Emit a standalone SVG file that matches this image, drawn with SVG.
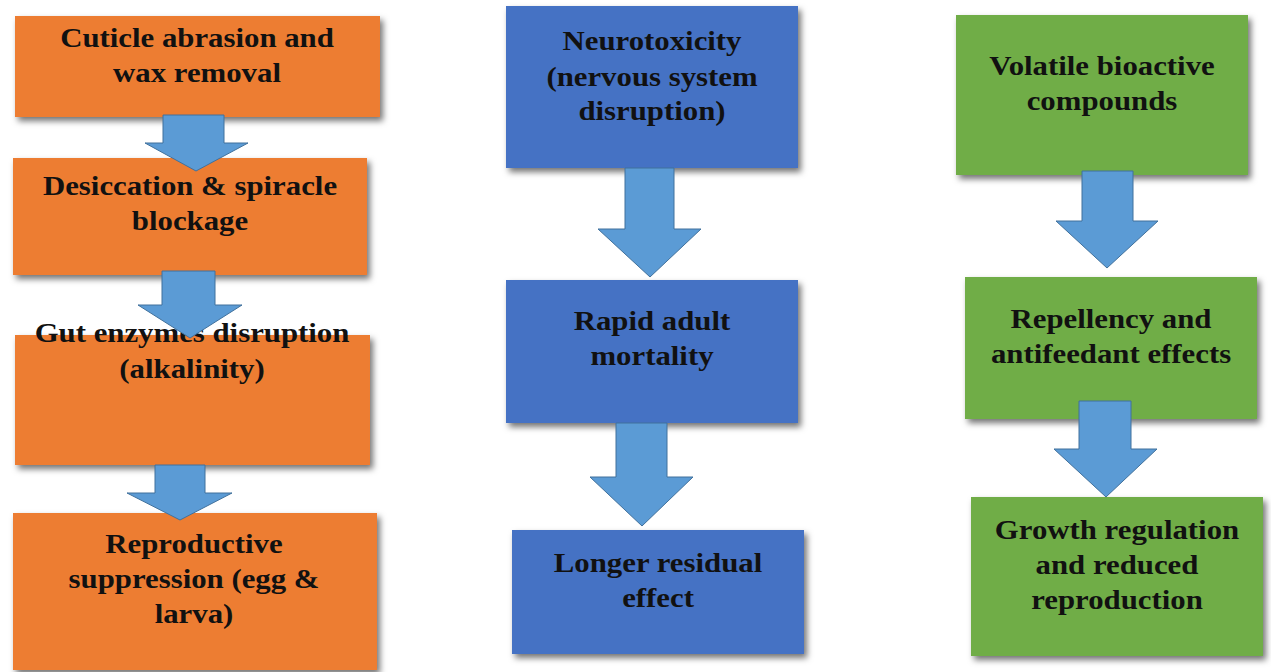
<svg xmlns="http://www.w3.org/2000/svg" width="1271" height="672" viewBox="0 0 1271 672">
<defs>
<filter id="sh" x="-10%" y="-10%" width="125%" height="130%">
<feDropShadow dx="3" dy="4" stdDeviation="3" flood-color="#000" flood-opacity="0.55"/>
</filter>
<style>
.o{fill:#ED7D31;filter:url(#sh)}
.b{fill:#4472C4;filter:url(#sh)}
.g{fill:#70AD47;filter:url(#sh)}
.t{font-family:"Liberation Serif","Times New Roman",serif;font-weight:bold;font-size:28px;fill:#111;text-anchor:middle}
.ar{fill:#5B9BD5;stroke:#41719C;stroke-width:1}
</style>
</defs>
<rect width="1271" height="672" fill="#fff"/>
<g id="nodes">
<g id="n-cuticle">
<rect class="o" x="15" y="16" width="365" height="101"/>
<g transform="translate(197,0) scale(1.1,1)"><text class="t" x="0" y="47">Cuticle abrasion and</text><text class="t" x="0" y="82">wax removal</text></g>
</g>
<g id="n-desiccation">
<rect class="o" x="13" y="158" width="354" height="117"/>
<g transform="translate(190,0) scale(1.1,1)"><text class="t" x="0" y="195">Desiccation &amp; spiracle</text><text class="t" x="0" y="230">blockage</text></g>
</g>
<g id="n-gut">
<rect class="o" x="15" y="335" width="355" height="130"/>
<g transform="translate(192,0) scale(1.1,1)"><text class="t" x="0" y="342">Gut enzymes disruption</text><text class="t" x="0" y="378">(alkalinity)</text></g>
</g>
<g id="n-repro">
<rect class="o" x="13" y="513" width="364" height="157"/>
<g transform="translate(194,0) scale(1.1,1)"><text class="t" x="0" y="553">Reproductive</text><text class="t" x="0" y="588">suppression (egg &amp;</text><text class="t" x="0" y="623">larva)</text></g>
</g>
<g id="n-neuro">
<rect class="b" x="506" y="6" width="292" height="162"/>
<g transform="translate(652,0) scale(1.1,1)"><text class="t" x="0" y="50">Neurotoxicity</text><text class="t" x="0" y="86">(nervous system</text><text class="t" x="0" y="120">disruption)</text></g>
</g>
<g id="n-rapid">
<rect class="b" x="506" y="280" width="292" height="143"/>
<g transform="translate(652,0) scale(1.1,1)"><text class="t" x="0" y="330">Rapid adult</text><text class="t" x="0" y="365">mortality</text></g>
</g>
<g id="n-longer">
<rect class="b" x="512" y="530" width="292" height="124"/>
<g transform="translate(658,0) scale(1.1,1)"><text class="t" x="0" y="572">Longer residual</text><text class="t" x="0" y="607">effect</text></g>
</g>
<g id="n-volatile">
<rect class="g" x="956" y="15" width="292" height="160"/>
<g transform="translate(1102,0) scale(1.1,1)"><text class="t" x="0" y="75">Volatile bioactive</text><text class="t" x="0" y="110">compounds</text></g>
</g>
<g id="n-repellency">
<rect class="g" x="965" y="277" width="292" height="142"/>
<g transform="translate(1111,0) scale(1.1,1)"><text class="t" x="0" y="328">Repellency and</text><text class="t" x="0" y="363">antifeedant effects</text></g>
</g>
<g id="n-growth">
<rect class="g" x="971" y="497" width="292" height="159"/>
<g transform="translate(1117,0) scale(1.1,1)"><text class="t" x="0" y="539">Growth regulation</text><text class="t" x="0" y="574">and reduced</text><text class="t" x="0" y="609">reproduction</text></g>
</g>
</g>
<g id="connectors">
<polygon class="ar" points="163,115 224,115 224,143 248,143 196,171 145,143 163,143"/>
<polygon class="ar" points="162,271 215,271 215,305 242,305 190,338 138,305 162,305"/>
<polygon class="ar" points="155,465 205,465 205,493 232,493 180,520 127,493 155,493"/>
<polygon class="ar" points="625,168 674,168 674,229 701,229 650,277 598,229 625,229"/>
<polygon class="ar" points="616,423 667,423 667,477 693,477 642,526 590,477 616,477"/>
<polygon class="ar" points="1082,171 1133,171 1133,221 1158,221 1107,268 1056,221 1082,221"/>
<polygon class="ar" points="1079,401 1131,401 1131,449 1157,449 1106,497 1054,449 1079,449"/>
</g>
</svg>
